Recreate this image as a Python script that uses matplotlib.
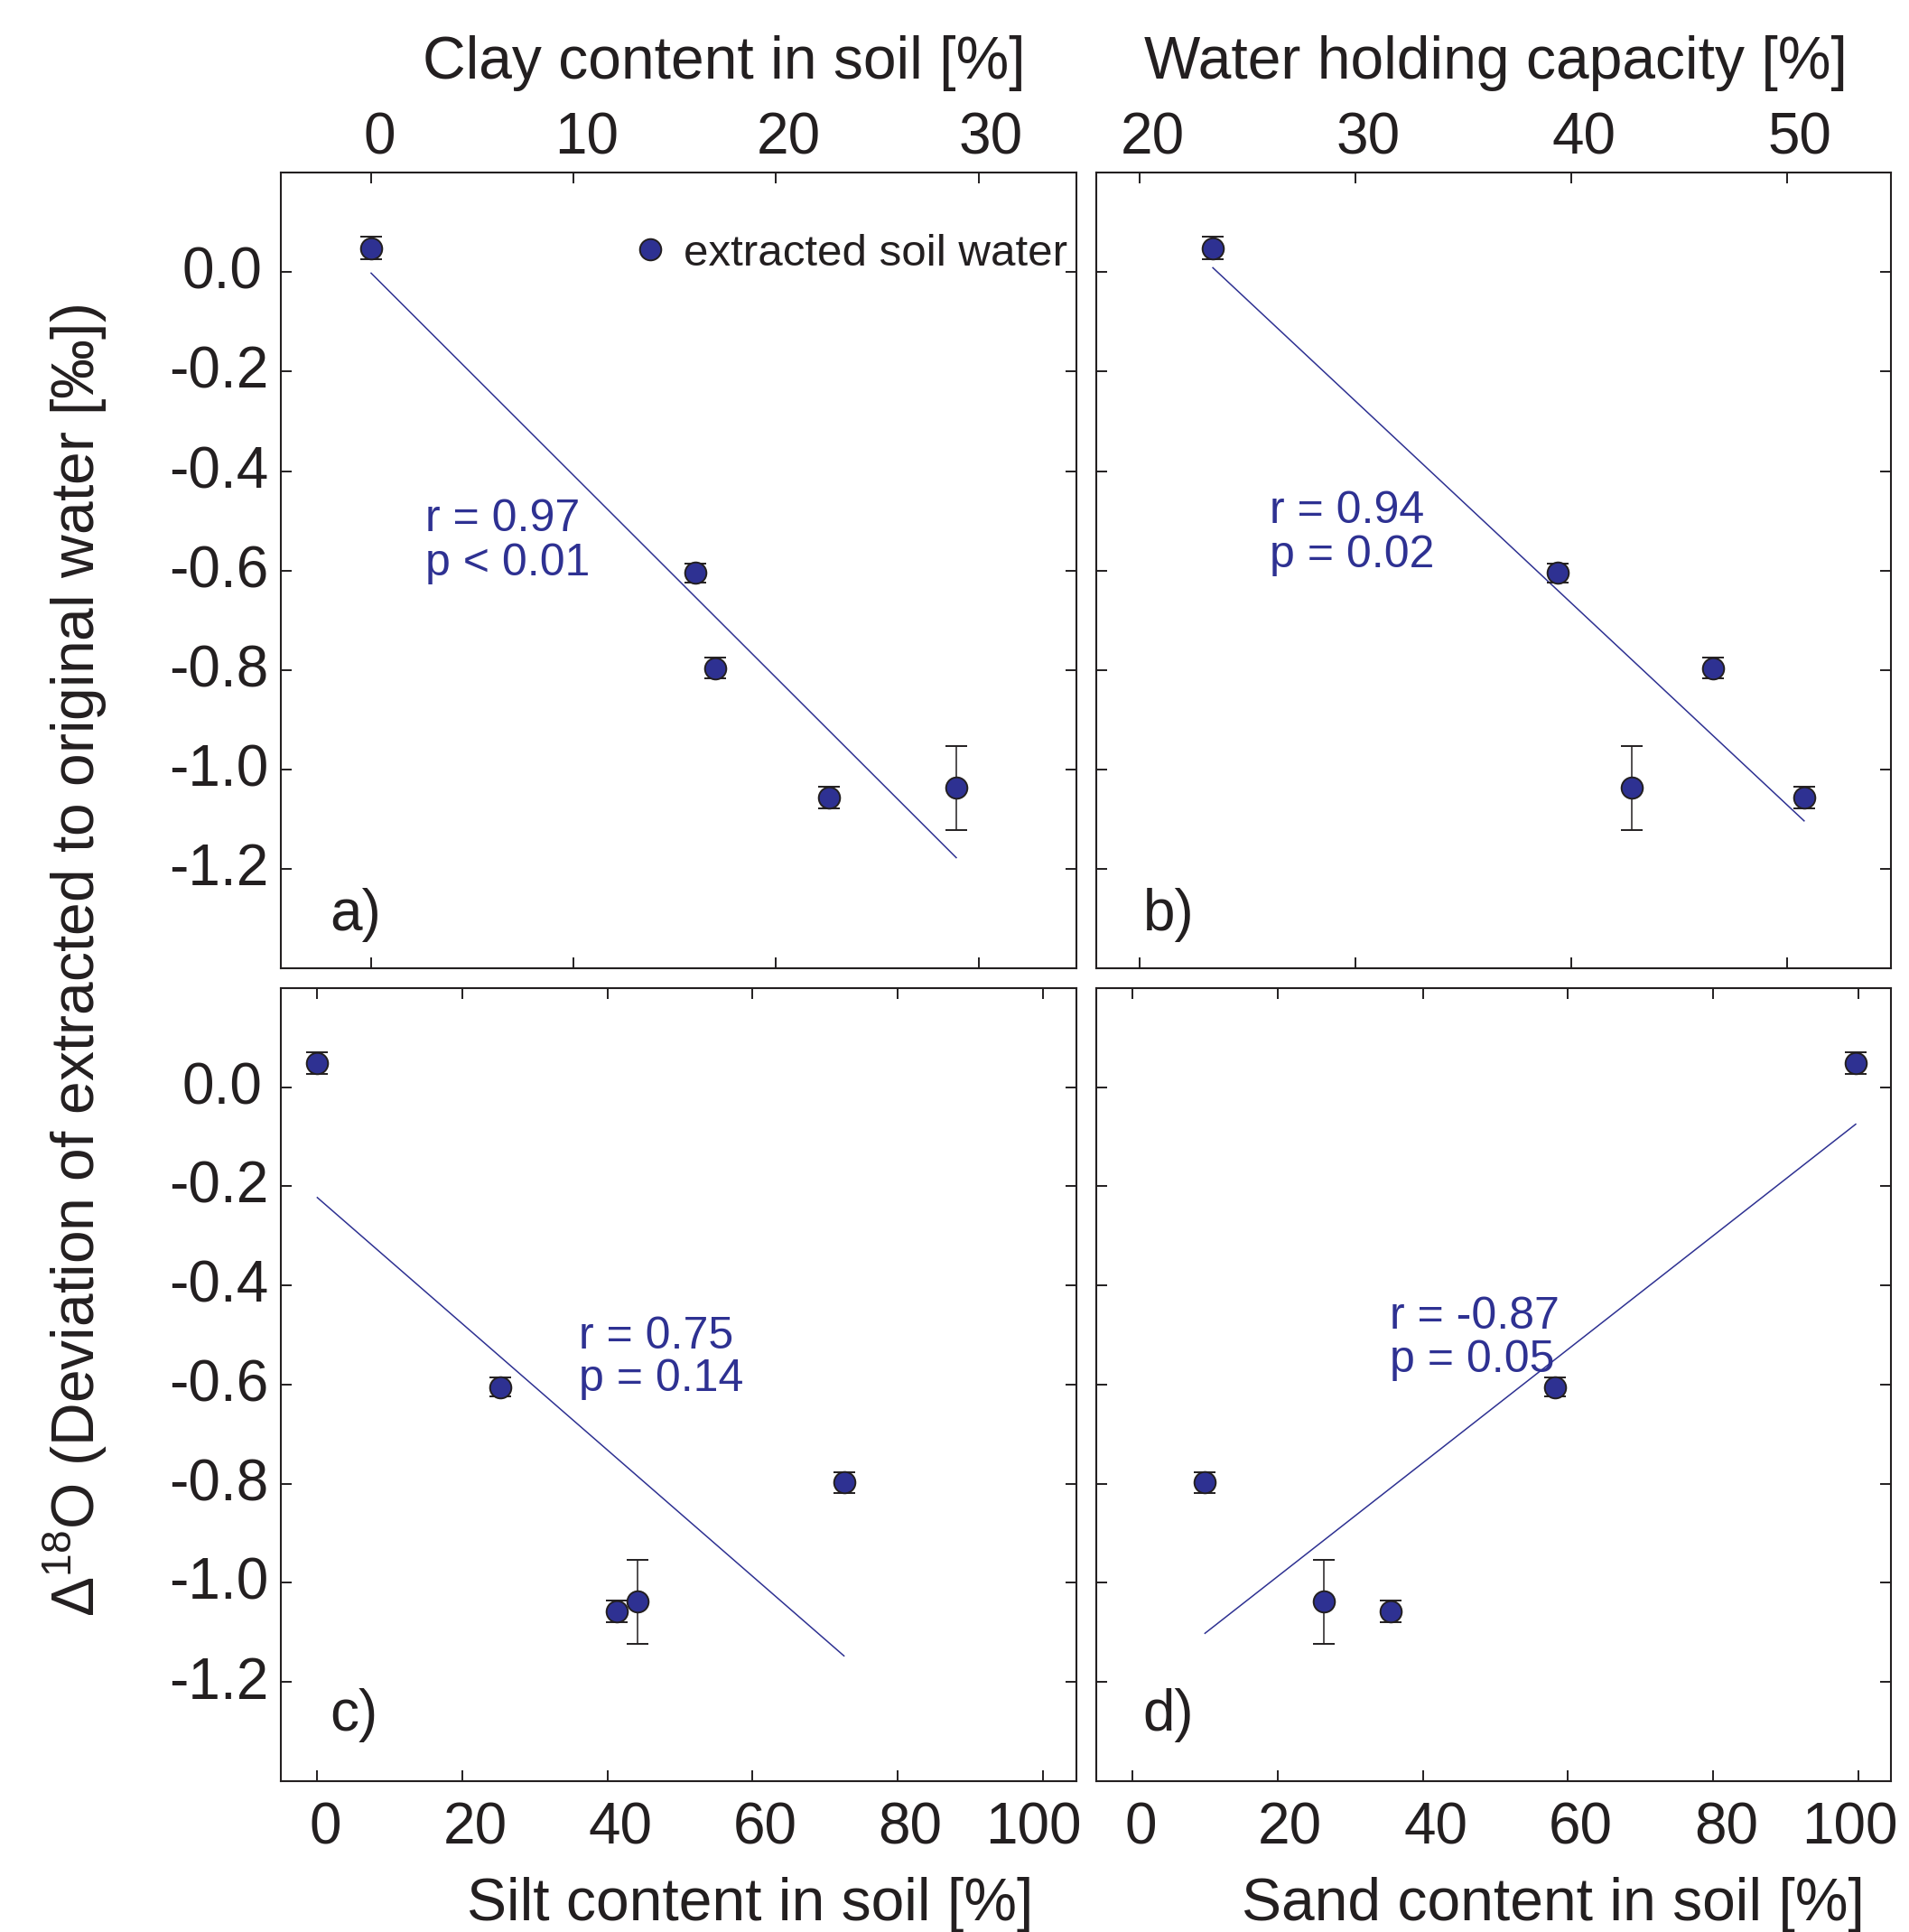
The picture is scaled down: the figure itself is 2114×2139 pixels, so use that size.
import numpy as np
import matplotlib
matplotlib.use("Agg")
import matplotlib.pyplot as plt
from matplotlib.lines import Line2D
from matplotlib.ticker import FixedLocator, FormatStrFormatter
from matplotlib.transforms import ScaledTranslation

plt.rcParams['font.family'] = ['Liberation Sans', 'DejaVu Sans']
plt.rcParams['mathtext.fontset'] = 'custom'
plt.rcParams['mathtext.rm'] = 'Liberation Sans'
plt.rcParams['mathtext.it'] = 'Liberation Sans:italic'
plt.rcParams['mathtext.bf'] = 'Liberation Sans:bold'
plt.rcParams['axes.unicode_minus'] = False

# ---------------- data ----------------
y_dev = [0.049, -0.605, -0.797, -1.057, -1.038]
y_err = [0.022, 0.019, 0.021, 0.022, 0.085]
clay = [0.0, 16.0, 17.0, 22.6, 28.9]
whc = [23.4, 39.4, 46.6, 50.8, 42.8]
silt = [0.0, 25.2, 72.6, 41.3, 44.2]
sand = [99.6, 58.2, 10.0, 35.6, 26.4]

r_texts = ["r = 0.97", "r = 0.94", "r = 0.75", "r = -0.87"]
p_texts = ["p < 0.01", "p = 0.02", "p = 0.14", "p = 0.05"]
panel_labels = ["a)", "b)", "c)", "d)"]
x_titles = ["Clay content in soil [%]", "Water holding capacity [%]",
            "Silt content in soil [%]", "Sand content in soil [%]"]
clay_ticks = [0, 10, 20, 30]
whc_ticks = [20, 30, 40, 50]
pct_ticks = [0, 20, 40, 60, 80, 100]
y_ticks = [-1.2, -1.0, -0.8, -0.6, -0.4, -0.2, 0.0]
legend_label = "extracted soil water"
y_title = r'$\Delta^{18}$O (Deviation of extracted to original water [‰])'

# ---------------- styling ----------------
BLUE = '#2E3192'
BLACK = '#231F20'
TICK_FS = 46
TITLE_FS = 47.5
ANN_FS = 36
LEG_FS = 35.5
MS = 17

fig = plt.figure(figsize=(21.14, 21.39), dpi=100)
positions = [
    [0.1471, 0.4990, 0.4166, 0.4115],
    [0.5743, 0.4990, 0.4163, 0.4115],
    [0.1471, 0.0781, 0.4166, 0.4105],
    [0.5743, 0.0781, 0.4163, 0.4105],
]
xdata = [clay, whc, silt, sand]
xlims = [(-4.46, 34.82), (18.0, 54.83), (-5.03, 104.6), (-4.96, 104.47)]
xticks = [clay_ticks, whc_ticks, pct_ticks, pct_ticks]
title_x = [0.5575, 0.503, 0.590, 0.575]
ann_pos = [(0.1815, 0.549, 0.4935), (0.218, 0.560, 0.504),
           (0.3747, 0.5455, 0.4915), (0.3687, 0.5700, 0.5160)]
lab_pos = [(0.0619, 0.0476), (0.0588, 0.0476), (0.0619, 0.0638), (0.0588, 0.0638)]

axes = []
for i in range(4):
    ax = fig.add_axes(positions[i])
    axes.append(ax)
    x = np.array(xdata[i])
    y = np.array(y_dev)
    # regression line (least squares fit of the points)
    k, b0 = np.polyfit(x, y, 1)
    xs = np.array([x.min(), x.max()])
    ax.plot(xs, k * xs + b0, color=BLUE, lw=1.1, zorder=2)
    # points with error bars
    ax.errorbar(x, y, yerr=y_err, fmt='o', ms=MS, mfc=BLUE, mec=BLACK, mew=1.4,
                ecolor=BLACK, elinewidth=1.1, capsize=8.3, capthick=1.4, zorder=3)
    ax.set_xlim(*xlims[i])
    ax.set_ylim(-1.4, 0.2)
    ax.xaxis.set_major_locator(FixedLocator(xticks[i]))
    ax.yaxis.set_major_locator(FixedLocator(y_ticks))
    ax.yaxis.set_major_formatter(FormatStrFormatter('%.1f'))
    for s in ax.spines.values():
        s.set_linewidth(1.5)
        s.set_color(BLACK)
    top_row = i < 2
    left_col = i % 2 == 0
    ax.tick_params(axis='both', which='major', direction='in', length=8.6, width=1.4,
                   color=BLACK, labelsize=TICK_FS, labelcolor=BLACK,
                   top=True, bottom=True, left=True, right=True,
                   labeltop=top_row, labelbottom=not top_row,
                   labelleft=left_col, labelright=False)
    ax.tick_params(axis='x', pad=5.8 if top_row else 16.0)
    ax.tick_params(axis='y', pad=10)
    # x-axis title
    ax.set_xlabel(x_titles[i], fontsize=TITLE_FS, color=BLACK)
    if top_row:
        ax.xaxis.set_label_position('top')
        ax.xaxis.set_label_coords(title_x[i], 1.1184)
    else:
        ax.xaxis.set_label_position('bottom')
        ax.xaxis.set_label_coords(title_x[i], -0.1755)
    ax.xaxis.label.set_va('baseline')
    ax.xaxis.label.set_ha('center')
    # correlation annotations
    ax_, y1, y2 = ann_pos[i]
    ax.text(ax_, y1, r_texts[i], transform=ax.transAxes, fontsize=ANN_FS,
            color=BLUE, ha='left', va='baseline')
    ax.text(ax_, y2, p_texts[i], transform=ax.transAxes, fontsize=ANN_FS,
            color=BLUE, ha='left', va='baseline')
    # panel label
    ax.text(lab_pos[i][0], lab_pos[i][1], panel_labels[i], transform=ax.transAxes,
            fontsize=TICK_FS, color=BLACK, ha='left', va='baseline')
    if i == 0:
        h = Line2D([], [], marker='o', ls='none', ms=MS, mfc=BLUE, mec=BLACK, mew=1.4)
        ax.legend(handles=[h], labels=[legend_label], loc='center left',
                  bbox_to_anchor=(0.4451, 0.898), frameon=False, fontsize=LEG_FS,
                  handlelength=0.7, handletextpad=0.4, borderpad=0, borderaxespad=0,
                  labelcolor=BLACK)

# small label offsets as typeset in the original figure (pixels)
def px(v):
    return v / 100.0  # inches at 100 dpi

for i, ax in enumerate(axes):
    vals = xticks[i]
    ticks = ax.xaxis.get_major_ticks(len(vals))
    for t, v in zip(ticks, vals):
        if v == 100:
            dx = -10
        elif v == 0:
            dx = 9
        else:
            dx = 14
        for lab in (t.label1, t.label2):
            lab.set_transform(lab.get_transform() +
                              ScaledTranslation(px(dx), 0, fig.dpi_scale_trans))
    yt = ax.yaxis.get_major_ticks(len(y_ticks))
    for t, v in zip(yt, y_ticks):
        dx = -7 if v == 0.0 else 0
        for lab in (t.label1, t.label2):
            lab.set_transform(lab.get_transform() +
                              ScaledTranslation(px(dx), px(5), fig.dpi_scale_trans))

fig.text(105 / 2114, 0.5028, y_title, rotation=90, rotation_mode='anchor',
         ha='center', va='baseline', fontsize=TITLE_FS, color=BLACK)

fig.savefig('out.png', dpi=100)
